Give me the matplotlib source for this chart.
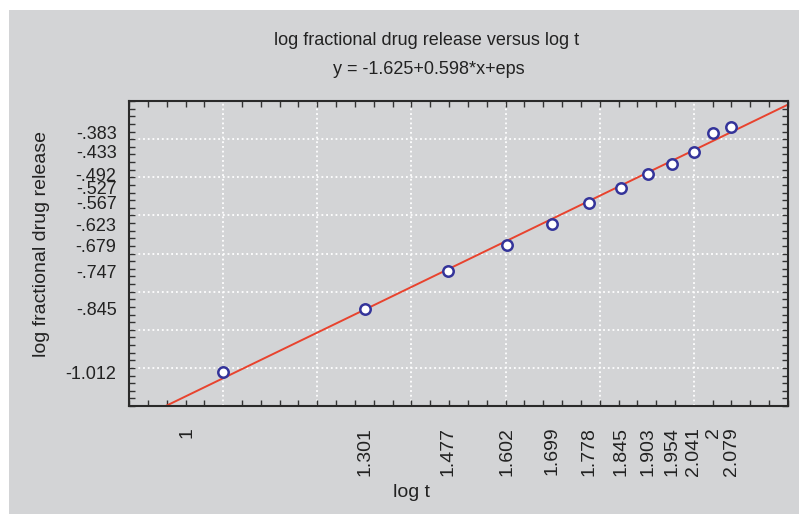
import numpy as np
import matplotlib
matplotlib.use('Agg')
import matplotlib.pyplot as plt
from matplotlib.patches import Rectangle
from matplotlib.ticker import MultipleLocator
import matplotlib.transforms as mtransforms

# log t and log fractional drug release
log_t = [1.0, 1.301, 1.477, 1.602, 1.699, 1.778, 1.845, 1.903, 1.954, 2.0, 2.041, 2.079]
log_rel = [-1.012, -0.845, -0.747, -0.679, -0.623, -0.567, -0.527, -0.492, -0.464, -0.433, -0.383, -0.367]

# tick labels as printed on the axes
x_labels = ['1', '1.301', '1.477', '1.602', '1.699', '1.778', '1.845', '1.903', '1.954', '2.041', '2', '2.079']
y_ticks = [-1.012, -0.845, -0.747, -0.679, -0.623, -0.567, -0.527, -0.492, -0.433, -0.383]
y_labels = ['-1.012', '-.845', '-.747', '-.679', '-.623', '-.567', '-.527', '-.492', '-.433', '-.383']

# fitted model y = b0 + b1*x
b0, b1 = -1.625, 0.598

x_range = np.array([0.8, 2.2])
y_range = np.array([-1.1, -0.3])

bg = '#d3d4d6'
plt.rcParams['font.family'] = ['Liberation Sans', 'DejaVu Sans']

fig = plt.figure(figsize=(7.99, 5.14), dpi=100, facecolor='white')
fig.patches.append(Rectangle((9 / 799, 0), 1, 504 / 514, transform=fig.transFigure,
                             facecolor=bg, edgecolor='none', zorder=-10))
ax = fig.add_axes([0.1615, 0.2101, 0.8247, 0.5934])
ax.set_facecolor(bg)

# dotted white grid every 0.2 / 0.1
for gx in np.arange(1.0, 2.01, 0.2):
    ax.axvline(gx, color='white', lw=1.3, ls=(0, (1, 1.6)), zorder=1)
for gy in np.arange(-1.0, -0.39, 0.1):
    ax.axhline(gy, color='white', lw=1.3, ls=(0, (1, 1.6)), zorder=1)

ax.plot(x_range, b0 + b1 * x_range, '-', color='#e8432e', lw=1.4, zorder=2)
ax.plot(log_t, log_rel, 'o', ms=7.5, mfc='white', mec='#34349a', mew=1.8, zorder=3)

ax.set_xlim(x_range)
ax.set_ylim(y_range)

ax.set_xticks(log_t)
ax.set_xticklabels(x_labels, rotation=90, fontsize=14)
ax.set_yticks(y_ticks)
ax.set_yticklabels(y_labels, fontsize=13)
ax.xaxis.set_minor_locator(MultipleLocator(0.04))
ax.yaxis.set_minor_locator(MultipleLocator(0.02))
ax.tick_params(which='major', length=0, colors='#222222')
ax.tick_params(axis='x', which='major', pad=15)
ax.tick_params(axis='y', which='major', pad=9)
ax.tick_params(which='minor', direction='in', length=4, width=1, color='#333333',
               top=True, right=True, bottom=True, left=True)

# the "1" label sits a little left of its point
lbl = ax.get_xticklabels()[0]
lbl.set_transform(lbl.get_transform() + mtransforms.ScaledTranslation(-0.36, 0, fig.dpi_scale_trans))

for s in ax.spines.values():
    s.set_color('#2a2a2a')
    s.set_linewidth(1.5)

ax.set_xlabel('log t', fontsize=14, color='#222222')
ax.xaxis.set_label_coords(0.428, -0.257)
ax.set_ylabel('log fractional drug release', fontsize=14, color='#222222')
ax.yaxis.set_label_coords(-0.12, 0.53)

fig.text(427 / 799, 1 - 41 / 514, 'log fractional drug release versus log t',
         ha='center', va='center', fontsize=13, color='#222222')
fig.text(429 / 799, 1 - 69 / 514, 'y = -1.625+0.598*x+eps',
         ha='center', va='center', fontsize=13, color='#222222')

fig.savefig('out.png', dpi=100, facecolor=fig.get_facecolor())
